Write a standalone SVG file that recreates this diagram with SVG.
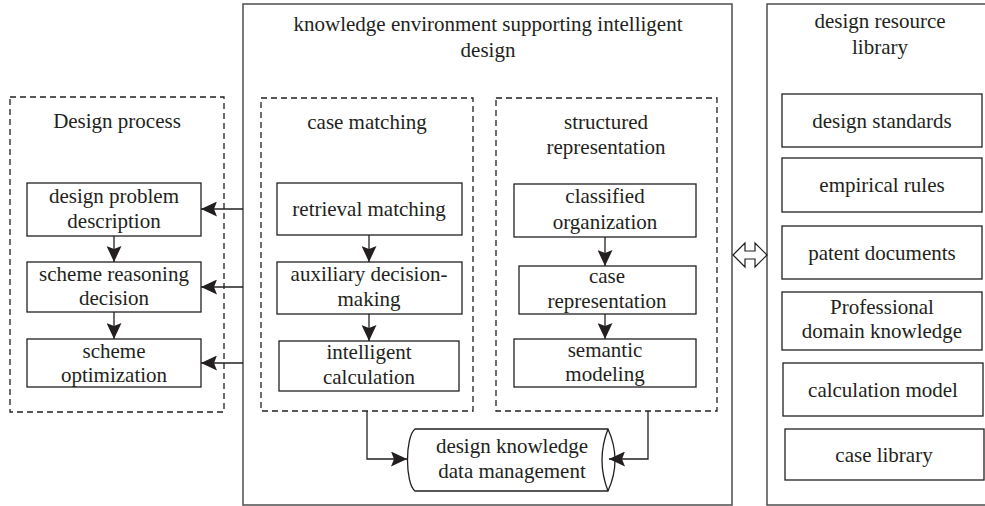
<svg xmlns="http://www.w3.org/2000/svg" width="985" height="506" viewBox="0 0 985 506">
  <style>
    text { font-family: "Liberation Serif", "Times New Roman", serif; font-size: 21px; fill: #231f20; text-anchor: middle; }
    .frame { fill: none; stroke: #4d4d4d; stroke-width: 1.5; }
    .group { fill: none; stroke: #231f20; stroke-width: 1.3; stroke-dasharray: 6 4; }
    .box { fill: #ffffff; stroke: #231f20; stroke-width: 1.3; }
    .link { fill: none; stroke: #231f20; stroke-width: 1.3; }
  </style>
  <defs>
    <marker id="arrow" markerUnits="userSpaceOnUse" viewBox="0 0 16 15" refX="16" refY="7.5" markerWidth="16" markerHeight="15" orient="auto">
      <path d="M0,0 L16,7.5 L0,15 L3,7.5 Z" fill="#231f20"/>
    </marker>
  </defs>
  <rect width="985" height="506" fill="#ffffff"/>

  <!-- left column: design process -->
  <g id="design-process">
    <rect class="group" x="10" y="97" width="214" height="315"/>
    <text x="117" y="128">Design process</text>
  </g>
  <g id="design-problem-description">
    <rect class="box" x="27" y="183" width="174" height="53"/>
    <text x="114" y="203">design problem</text>
    <text x="114" y="228">description</text>
  </g>
  <g id="scheme-reasoning-decision">
    <rect class="box" x="27" y="262" width="174" height="50"/>
    <text x="114" y="281">scheme reasoning</text>
    <text x="114" y="305">decision</text>
  </g>
  <g id="scheme-optimization">
    <rect class="box" x="27" y="339" width="174" height="48"/>
    <text x="114" y="358">scheme</text>
    <text x="114" y="382">optimization</text>
  </g>

  <!-- middle column: knowledge environment -->
  <g id="knowledge-environment">
    <rect class="frame" x="243" y="4" width="489" height="501"/>
    <text x="488" y="31">knowledge environment supporting intelligent</text>
    <text x="488" y="57">design</text>
  </g>
  <g id="case-matching">
    <rect class="group" x="261" y="98" width="212" height="313"/>
    <text x="367" y="129">case matching</text>
  </g>
  <g id="retrieval-matching">
    <rect class="box" x="277" y="183" width="185" height="52"/>
    <text x="369" y="216">retrieval matching</text>
  </g>
  <g id="auxiliary-decision-making">
    <rect class="box" x="277" y="262" width="185" height="52"/>
    <text x="369" y="281">auxiliary decision-</text>
    <text x="369" y="306">making</text>
  </g>
  <g id="intelligent-calculation">
    <rect class="box" x="279" y="341" width="180" height="50"/>
    <text x="369" y="359">intelligent</text>
    <text x="369" y="384">calculation</text>
  </g>
  <g id="structured-representation">
    <rect class="group" x="496" y="98" width="221" height="313"/>
    <text x="606" y="129">structured</text>
    <text x="606" y="154">representation</text>
  </g>
  <g id="classified-organization">
    <rect class="box" x="514" y="184" width="182" height="53"/>
    <text x="605" y="203">classified</text>
    <text x="605" y="229">organization</text>
  </g>
  <g id="case-representation">
    <rect class="box" x="519" y="266" width="177" height="48"/>
    <text x="607" y="283">case</text>
    <text x="607" y="308">representation</text>
  </g>
  <g id="semantic-modeling">
    <rect class="box" x="514" y="339" width="182" height="48"/>
    <text x="605" y="357">semantic</text>
    <text x="605" y="381">modeling</text>
  </g>
  <g id="design-knowledge-data-management">
    <path class="box" d="M415,429 H608 Q622,460 608,491 H415 C405,483 405,437 415,429 Z"/>
    <path class="link" d="M608,429 Q596,460 608,491"/>
    <text x="512" y="453">design knowledge</text>
    <text x="512" y="478">data management</text>
  </g>

  <!-- right column: design resource library -->
  <g id="design-resource-library">
    <rect class="frame" x="767" y="4" width="225" height="501"/>
    <text x="880" y="28">design resource</text>
    <text x="880" y="54">library</text>
  </g>
  <g id="design-standards">
    <rect class="box" x="782" y="94" width="200" height="53"/>
    <text x="882" y="128">design standards</text>
  </g>
  <g id="empirical-rules">
    <rect class="box" x="782" y="158" width="200" height="54"/>
    <text x="882" y="192">empirical rules</text>
  </g>
  <g id="patent-documents">
    <rect class="box" x="782" y="226" width="200" height="53"/>
    <text x="882" y="260">patent documents</text>
  </g>
  <g id="professional-domain-knowledge">
    <rect class="box" x="782" y="292" width="200" height="58"/>
    <text x="882" y="314">Professional</text>
    <text x="882" y="338">domain knowledge</text>
  </g>
  <g id="calculation-model">
    <rect class="box" x="783" y="363" width="200" height="53"/>
    <text x="883" y="397">calculation model</text>
  </g>
  <g id="case-library">
    <rect class="box" x="785" y="429" width="199" height="51"/>
    <text x="884" y="462">case library</text>
  </g>

  <!-- connectors -->
  <g id="connectors">
    <line class="link" x1="114" y1="236" x2="114" y2="262" marker-end="url(#arrow)"/>
    <line class="link" x1="114" y1="312" x2="114" y2="339" marker-end="url(#arrow)"/>
    <line class="link" x1="243" y1="209" x2="201" y2="209" marker-end="url(#arrow)"/>
    <line class="link" x1="243" y1="287" x2="201" y2="287" marker-end="url(#arrow)"/>
    <line class="link" x1="243" y1="363" x2="201" y2="363" marker-end="url(#arrow)"/>
    <line class="link" x1="369" y1="235" x2="369" y2="262" marker-end="url(#arrow)"/>
    <line class="link" x1="369" y1="314" x2="369" y2="341" marker-end="url(#arrow)"/>
    <line class="link" x1="605" y1="237" x2="605" y2="266" marker-end="url(#arrow)"/>
    <line class="link" x1="605" y1="314" x2="605" y2="339" marker-end="url(#arrow)"/>
    <path class="link" d="M367,411 V459 H407" marker-end="url(#arrow)"/>
    <path class="link" d="M648,411 V459 H609" marker-end="url(#arrow)"/>
    <path d="M733,255 L745,243 V251 H755 V243 L767,255 L755,267 V259 H745 V267 Z" fill="#ffffff" stroke="#231f20" stroke-width="1.2"/>
  </g>
</svg>
